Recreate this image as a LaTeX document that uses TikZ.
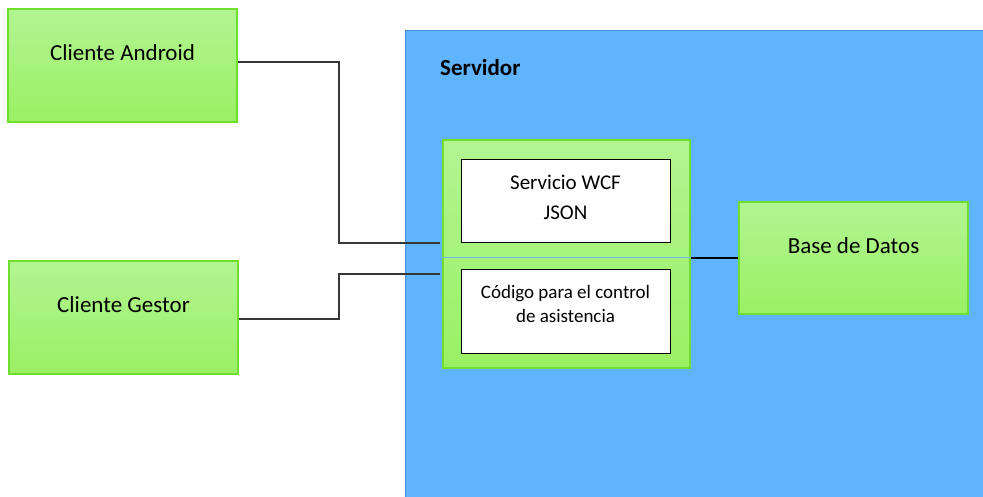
\documentclass[tikz,border=0pt]{standalone}
\usepackage{fontspec}
\setmainfont{Carlito}
\usetikzlibrary{calc}
\definecolor{greentop}{RGB}{178,245,146}
\definecolor{greenbot}{RGB}{154,240,100}
\definecolor{greenline}{RGB}{112,222,44}
\definecolor{serverfill}{RGB}{96,180,252}
\definecolor{serverline}{RGB}{72,142,222}
\definecolor{divider}{RGB}{110,185,250}
\definecolor{wire}{RGB}{55,55,55}
\tikzset{
  greenbox/.style={draw=greenline, line width=1.2pt, top color=greentop, bottom color=greenbot, rectangle, inner sep=0pt},
  whitebox/.style={draw=black, line width=1pt, fill=white, rectangle, inner sep=0pt, minimum width=209pt, minimum height=83pt},
  bigtxt/.style={font=\fontsize{23}{27}\selectfont, text=black, inner sep=0pt},
  smalltxt/.style={font=\fontsize{19}{24}\selectfont, text=black, inner sep=0pt, align=center},
  wireline/.style={draw=wire, line width=1.5pt}
}
\begin{document}
\begin{tikzpicture}[x=1pt, y=-1pt]
  \useasboundingbox (0,0) rectangle (983,497);
  \clip (0,0) rectangle (983,497);

  % server area (runs past the right and bottom edges)
  \node[draw=serverline, fill=serverfill, line width=1pt, rectangle, inner sep=0pt,
        minimum width=600pt, minimum height=490pt, anchor=north west] (server) at (405,30) {};
  \node[font=\bfseries\fontsize{23}{27}\selectfont, inner sep=0pt, anchor=west] (servertitle) at (440,68) {Servidor};

  % clients
  \node[greenbox, minimum width=229pt, minimum height=113pt] (android) at (122.5,65.5) {};
  \node[bigtxt] (androidtxt) at (122.5,53) {Cliente Android};
  \node[greenbox, minimum width=229pt, minimum height=113pt] (gestor) at (123.5,317.5) {};
  \node[bigtxt] (gestortxt) at (123.5,305) {Cliente Gestor};

  % service container
  \node[greenbox, minimum width=247pt, minimum height=228pt] (svc) at (566.5,254) {};
  \draw[divider, line width=1pt] (svc.west |- 0,258) coordinate (divl) -- (svc.east |- 0,258) coordinate (divr);
  \node[whitebox] (wcf) at (565.5,201.5) {};
  \node[bigtxt, font=\fontsize{21}{30}\selectfont, align=center] (wcftxt) at (565.5,197) {Servicio WCF\\JSON};
  \node[whitebox] (code) at (565.5,311.5) {};
  \node[smalltxt] (codetxt) at (565.5,304) {Código para el control\\de asistencia};

  % database
  \node[greenbox, minimum width=229pt, minimum height=112pt] (db) at (853.5,258) {};
  \node[bigtxt] (dbtxt) at (853.5,246) {Base de Datos};

  % connectors
  \coordinate (aend) at (440,243);
  \coordinate (gend) at (440,274);
  \draw[wireline] ([yshift=3.5pt]android.east) -| (339,243) -- (aend);
  \draw[wireline] ([yshift=-1.5pt]gestor.east) -| (339,274) -- (gend);
  \draw[draw=black, line width=1.5pt] (divr) -- (db.west);
\end{tikzpicture}
\end{document}
